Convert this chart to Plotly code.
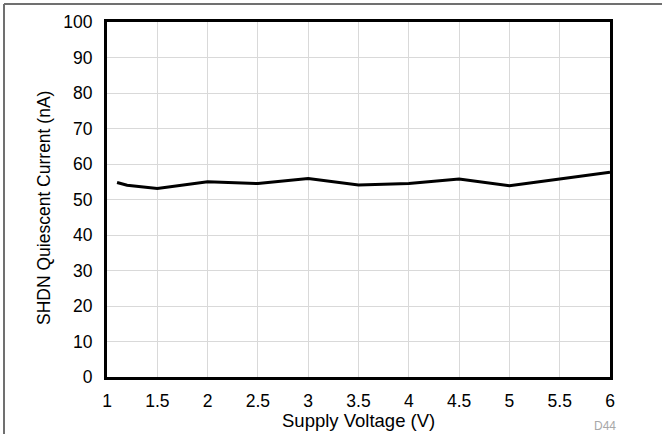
import plotly.graph_objects as go

voltage = [1.1, 1.2, 1.5, 2.0, 2.5, 3.0, 3.5, 4.0, 4.5, 5.0, 5.5, 6.0]
current_nA = [54.8, 54.0, 53.1, 55.0, 54.5, 55.9, 54.1, 54.5, 55.8, 53.9, 55.8, 57.7]

x_ticks = [1, 1.5, 2, 2.5, 3, 3.5, 4, 4.5, 5, 5.5, 6]
x_ticklabels = ["1", "1.5", "2", "2.5", "3", "3.5", "4", "4.5", "5", "5.5", "6"]
y_ticks = [0, 10, 20, 30, 40, 50, 60, 70, 80, 90, 100]

x_title = "Supply Voltage (V)"
y_title = "SHDN Quiescent Current (nA)"
figure_id = "D44"

font = "Liberation Sans, Arial, sans-serif"

L, R, T, B = 107, 52, 22, 57
W, H = 662, 434
pw, ph = W - L - R, H - T - B


def px(x):
    return (x - L) / pw


def py(y):
    return (H - B - y) / ph


fig = go.Figure()
fig.add_trace(go.Scatter(x=voltage, y=current_nA, mode="lines",
                         line=dict(color="black", width=3),
                         showlegend=False, hoverinfo="skip"))

fig.update_layout(
    width=W, height=H,
    margin=dict(l=L, r=R, t=T, b=B),
    paper_bgcolor="white", plot_bgcolor="white",
    font=dict(family=font, size=17.5, color="black"),
    xaxis=dict(range=[1, 6], tickvals=x_ticks, ticktext=x_ticklabels,
               showgrid=True, gridcolor="#d9d9d9", gridwidth=1,
               showline=True, linecolor="black", linewidth=3, mirror=True,
               ticks="outside", ticklen=6, tickcolor="rgba(0,0,0,0)",
               automargin=False, zeroline=False),
    yaxis=dict(range=[0, 100], tickvals=y_ticks,
               showgrid=True, gridcolor="#d9d9d9", gridwidth=1,
               showline=True, linecolor="black", linewidth=3, mirror=True,
               ticks="outside", ticklen=8, tickcolor="rgba(0,0,0,0)",
               automargin=False, zeroline=False),
)

# axis titles
fig.add_annotation(text=x_title, xref="paper", yref="paper",
                   x=px(358), y=py(420), xanchor="center", yanchor="middle",
                   showarrow=False, font=dict(size=18.5, color="black", family=font))
fig.add_annotation(text=y_title, xref="paper", yref="paper",
                   x=px(44), y=py(208), xanchor="center", yanchor="middle",
                   textangle=-90, showarrow=False,
                   font=dict(size=17.5, color="black", family=font))

# outer frame (top and left edges)
fig.add_shape(type="line", xref="paper", yref="paper",
              x0=px(4), x1=px(W + 5), y0=py(4), y1=py(4),
              line=dict(color="#707070", width=2), layer="above")
fig.add_shape(type="line", xref="paper", yref="paper",
              x0=px(4), x1=px(4), y0=py(4), y1=py(H + 5),
              line=dict(color="#707070", width=2), layer="above")

fig.add_annotation(text=figure_id, xref="paper", yref="paper",
                   x=px(605), y=py(426), xanchor="center", yanchor="middle",
                   showarrow=False, font=dict(size=12, color="#a8a8a8", family=font))

fig.write_html("out.html", config={"displayModeBar": False})

# remove default body margin so the figure sits at the page origin
with open("out.html", "r", encoding="utf-8") as f:
    html = f.read()
html = html.replace("<head>", "<head><style>html,body{margin:0;padding:0;}</style>", 1)
with open("out.html", "w", encoding="utf-8") as f:
    f.write(html)
